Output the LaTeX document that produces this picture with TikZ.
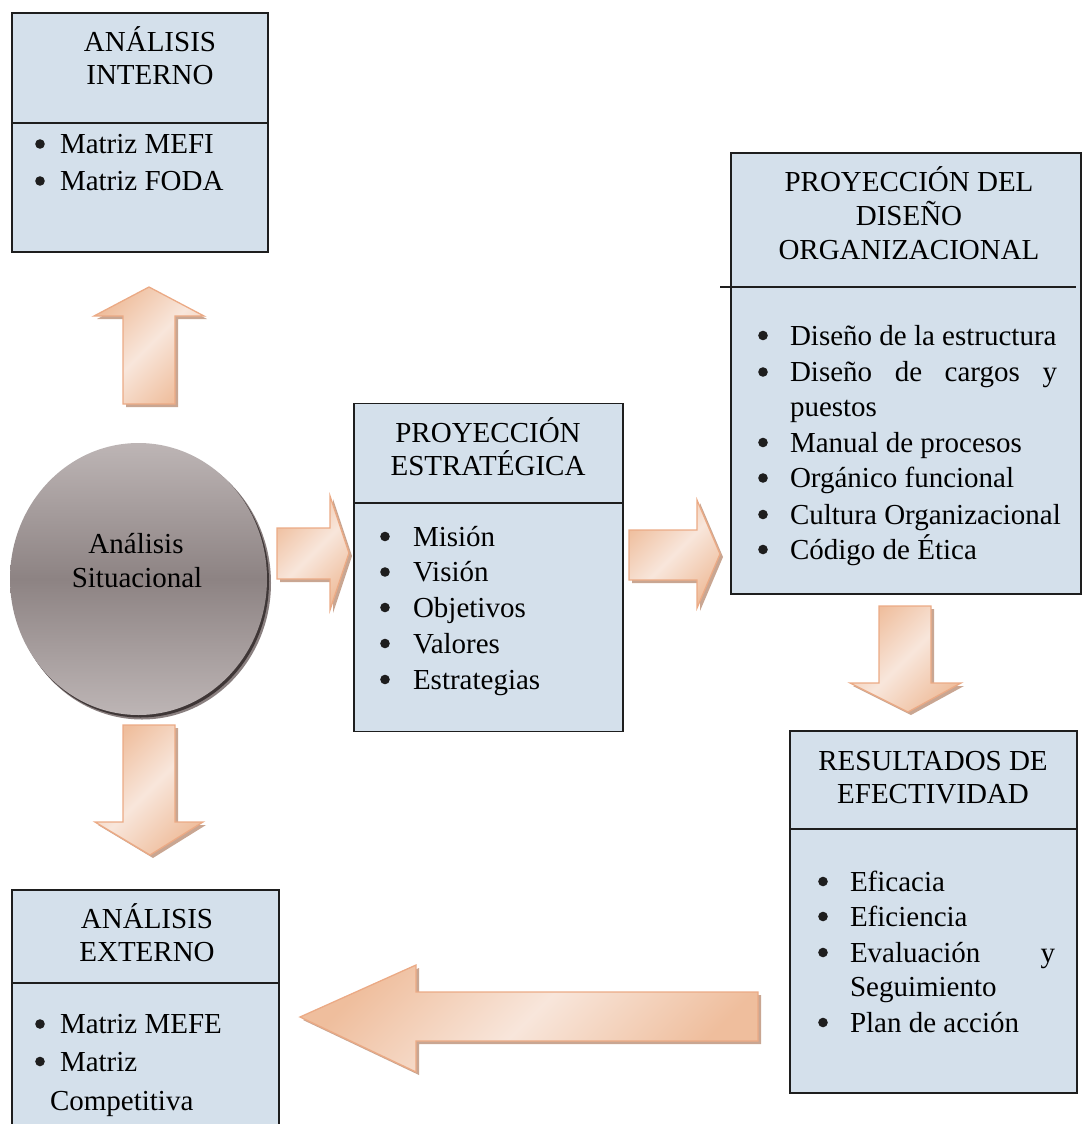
\documentclass[tikz,border=0pt]{standalone}
\usepackage{fontspec}
\setmainfont{Liberation Serif}
\usetikzlibrary{shapes.geometric}

\definecolor{panelfill}{HTML}{D4E0EB}
\definecolor{panelline}{HTML}{1E1E1E}
\definecolor{arrowline}{HTML}{EBAA85}
\definecolor{arrowdark}{HTML}{EFBE9D}
\definecolor{arrowlight}{HTML}{F8E6DB}
\definecolor{arrowshade}{HTML}{C9A692}
\definecolor{orbtop}{HTML}{BDB5B5}
\definecolor{orbmid}{HTML}{8D8383}
\definecolor{orbrim}{HTML}{3E3636}
\definecolor{orbhalo}{HTML}{8A8080}

% block arrow: soft shadow first, then the shaded body
\newcommand\BlockArrow[1]{%
  \fill[arrowshade, shift={(3,3)}] #1;
  \path[arrowbody] #1;}
% bullet dot of a list line with the given baseline
\newcommand\ListDot[2]{\fill[panelline] (#1,#2-9.5) circle[radius=4.8];}

\begin{document}
\begin{tikzpicture}[x=1pt,y=-1pt,
  every node/.style={font=\fontsize{29}{35}\selectfont, inner sep=0pt, outer sep=0pt},
  panel/.style={rectangle, draw=panelline, line width=1.5pt, fill=panelfill},
  rule/.style={draw=panelline, line width=1.5pt},
  title/.style={anchor=base},
  item/.style={anchor=base west},
  arrowbody/.style={draw=arrowline, line width=1.3pt, line join=miter,
    top color=arrowdark, bottom color=arrowdark, middle color=arrowlight, shading angle=45},
]
\useasboundingbox (0,0) rectangle (1083,1124);

% ---------- central orb ----------
\node[ellipse, fill=orbhalo, minimum width=258, minimum height=273] (sithalo) at (142,583) {};
\node[ellipse, fill=orbrim, minimum width=257, minimum height=272] (sitrim) at (140.5,581.5) {};
\node[ellipse, minimum width=257, minimum height=272,
  top color=orbtop, bottom color=orbtop, middle color=orbmid] (sit) at (138.5,579) {};
\node[title] (sitA) at (136,553) {Análisis};
\node[title] (sitB) at (137,587) {Situacional};

% ---------- ANÁLISIS INTERNO ----------
\node[panel, minimum width=256, minimum height=239] (intbox) at (140,132.5) {};
\draw[rule] (12,123) -- (268,123);
\node[title] (intT1) at (150,52) {ANÁLISIS};
\node[title] (intT2) at (150,84.5) {INTERNO};
\ListDot{40}{153.5}\node[item] (intI1) at (60,153.5) {Matriz MEFI};
\ListDot{40}{190.5}\node[item] (intI2) at (60,190.5) {Matriz FODA};

% ---------- PROYECCIÓN ESTRATÉGICA ----------
\node[panel, minimum width=269, minimum height=328] (estbox) at (488.5,567.5) {};
\draw[rule] (354,503) -- (623,503);
\node[title] (estT1) at (488,442.5) {PROYECCIÓN};
\node[title] (estT2) at (488,475) {ESTRATÉGICA};
\ListDot{385}{546}\node[item] (estI1) at (413,546) {Misión};
\ListDot{385}{581.5}\node[item] (estI2) at (413,581.5) {Visión};
\ListDot{385}{617}\node[item] (estI3) at (413,617) {Objetivos};
\ListDot{385}{653}\node[item] (estI4) at (413,653) {Valores};
\ListDot{385}{689}\node[item] (estI5) at (413,689) {Estrategias};

% ---------- PROYECCIÓN DEL DISEÑO ORGANIZACIONAL ----------
\node[panel, minimum width=350, minimum height=441] (disbox) at (906,373.5) {};
\draw[rule] (720,287) -- (1076,287);
\node[title] (disT1) at (909,191) {PROYECCIÓN DEL};
\node[title] (disT2) at (909,225) {DISEÑO};
\node[title] (disT3) at (909,259) {ORGANIZACIONAL};
\ListDot{763}{345}\node[item] (disI1) at (790,345) {Diseño de la estructura};
\ListDot{763}{381.5}\node[item] (disI2) at (790,381.5) {\makebox[267pt][s]{Diseño de cargos y}};
\node[item] (disI2b) at (790,416) {puestos};
\ListDot{763}{452}\node[item] (disI3) at (790,452) {Manual de procesos};
\ListDot{763}{487.5}\node[item] (disI4) at (790,487.5) {Orgánico funcional};
\ListDot{763}{524}\node[item] (disI5) at (790,524) {Cultura Organizacional};
\ListDot{763}{559}\node[item] (disI6) at (790,559) {Código de Ética};

% ---------- RESULTADOS DE EFECTIVIDAD ----------
\node[panel, minimum width=287, minimum height=362] (resbox) at (933.5,912) {};
\draw[rule] (790,829) -- (1077,829);
\node[title] (resT1) at (933,770) {RESULTADOS DE};
\node[title] (resT2) at (933,803) {EFECTIVIDAD};
\ListDot{823}{891}\node[item] (resI1) at (850,891) {Eficacia};
\ListDot{823}{926}\node[item] (resI2) at (850,926) {Eficiencia};
\ListDot{823}{962}\node[item] (resI3) at (850,962) {\makebox[205pt][s]{Evaluación y}};
\node[item] (resI3b) at (850,996.5) {Seguimiento};
\ListDot{823}{1032}\node[item] (resI4) at (850,1032) {Plan de acción};

% ---------- ANÁLISIS EXTERNO ----------
\node[panel, minimum width=267, minimum height=250] (extbox) at (145.5,1015) {};
\draw[rule] (12,983) -- (279,983);
\node[title] (extT1) at (147,928) {ANÁLISIS};
\node[title] (extT2) at (147,961.5) {EXTERNO};
\ListDot{40}{1033.5}\node[item] (extI1) at (60,1033.5) {Matriz MEFE};
\ListDot{40}{1071}\node[item] (extI2) at (60,1071) {Matriz};
\node[item] (extI2b) at (50,1110) {Competitiva};

% ---------- block arrows ----------
% up, towards ANÁLISIS INTERNO
\BlockArrow{(123,404) -- (123,316) -- (94,316) -- (149,287) -- (204,316) -- (175,316) -- (175,404) -- cycle}
% down, towards ANÁLISIS EXTERNO
\BlockArrow{(123,725) -- (175,725) -- (175,822) -- (203,822) -- (150,855) -- (95,822) -- (123,822) -- cycle}
% right, towards PROYECCIÓN ESTRATÉGICA
\BlockArrow{(277,528) -- (330,528) -- (330,496) -- (349,553) -- (330,610) -- (330,579) -- (277,579) -- cycle}
% right, towards PROYECCIÓN DEL DISEÑO
\BlockArrow{(629,530) -- (697,530) -- (697,500) -- (720,554) -- (697,608) -- (697,580) -- (629,580) -- cycle}
% down, towards RESULTADOS
\BlockArrow{(879,606) -- (931,606) -- (931,683) -- (961,683) -- (908,712) -- (850,683) -- (879,683) -- cycle}
% long left, back to ANÁLISIS EXTERNO
\BlockArrow{(758,992) -- (416,992) -- (416,965) -- (300,1017) -- (416,1072) -- (416,1041) -- (758,1041) -- cycle}
\end{tikzpicture}
\end{document}
